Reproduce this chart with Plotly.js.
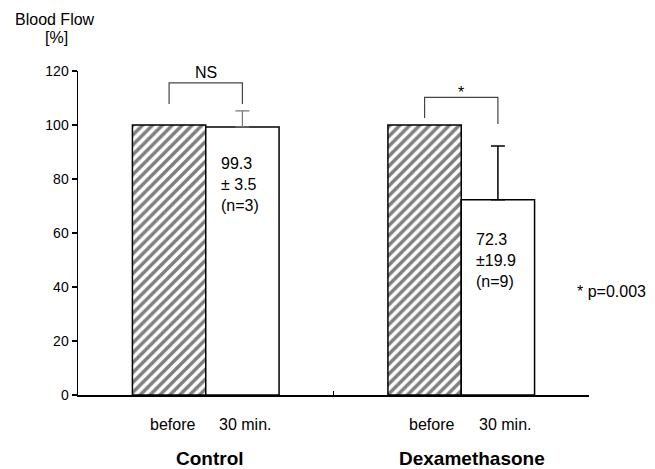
<!DOCTYPE html>
<html>
<head>
<meta charset="utf-8">
<script src="https://cdn.plot.ly/plotly-3.0.1.min.js"></script>
<style>html,body{margin:0;padding:0;background:#fff;}#chart{width:655px;height:469px;}</style>
</head>
<body>
<div id="chart"></div>
<script>
// ---- data ----
const groups = ['Control', 'Dexamethasone'];
const groupPos = [0, 1];
const phaseLabels = ['before', '30 min.'];
const beforeValues = [100, 100];
const afterValues = [99.3, 72.3];
const afterErrorDrawn = [5.9, 19.9];
const bracketTop = [115.6, 110.2];
const bracketLeftEnd = [107.8, 102.6];
const bracketRightEnd = [107.8, 100.4];
const bracketLabels = ['NS', '*'];
const statTexts = ['99.3<br>± 3.5<br>(n=3)', '72.3<br>±19.9<br>(n=9)'];
const statTextY = [77.8, 50];
const yTicks = [0, 20, 40, 60, 80, 100, 120];
const footnote = '* p=0.003';

const FONT = 'Liberation Sans, Arial, Helvetica, sans-serif';
const bargap = 0.426;
const barW = (1 - bargap) / 2;

const traces = [
  {
    type: 'bar', name: 'before', x: groupPos, y: beforeValues,
    offsetgroup: 'a',
    marker: {color: '#ffffff', line: {color: '#000', width: 1.5},
      pattern: {shape: '/', fgcolor: '#000', bgcolor: '#fff', size: 7, solidity: 0.5, fillmode: 'overlay'}},
    hoverinfo: 'skip', showlegend: false
  },
  {
    type: 'bar', name: '30 min. control', x: [groupPos[0]], y: [afterValues[0]],
    offsetgroup: 'b',
    marker: {color: '#ffffff', line: {color: '#000', width: 1.5}},
    error_y: {type: 'data', symmetric: false, array: [afterErrorDrawn[0]], arrayminus: [0], color: '#777', thickness: 1.2, width: 7},
    hoverinfo: 'skip', showlegend: false
  },
  {
    type: 'bar', name: '30 min. dexa', x: [groupPos[1]], y: [afterValues[1]],
    offsetgroup: 'b',
    marker: {color: '#ffffff', line: {color: '#000', width: 1.5}},
    error_y: {type: 'data', symmetric: false, array: [afterErrorDrawn[1]], arrayminus: [0], color: '#000', thickness: 1.5, width: 7},
    hoverinfo: 'skip', showlegend: false
  }
];

const shapes = [];
const annotations = [];
groupPos.forEach((g, i) => {
  const xl = g - barW / 2, xr = g + barW / 2;
  shapes.push({
    type: 'path', xref: 'x', yref: 'y',
    path: `M ${xl},${bracketLeftEnd[i]} L ${xl},${bracketTop[i]} L ${xr},${bracketTop[i]} L ${xr},${bracketRightEnd[i]}`,
    line: {color: '#444', width: 1.2}
  });
  annotations.push({
    xref: 'x', yref: 'y', x: g, y: bracketTop[i], text: bracketLabels[i],
    showarrow: false, yanchor: 'middle', yshift: i === 0 ? 10 : 5,
    font: {family: FONT, size: 16, color: '#000'}
  });
  annotations.push({
    xref: 'x', yref: 'y', x: g, y: statTextY[i], text: statTexts[i],
    showarrow: false, xanchor: 'left', yanchor: 'middle', align: 'left', xshift: 13,
    font: {family: FONT, size: 16, color: '#000'}
  });
  annotations.push({
    xref: 'x', yref: 'paper', x: g, y: 0, text: '<b>' + groups[i] + '</b>',
    showarrow: false, yanchor: 'middle', yshift: -63, xshift: i === 0 ? 4 : 11,
    font: {family: FONT, size: 19, color: '#000'}
  });
  [xl, xr].forEach((xc, k) => {
    annotations.push({
      xref: 'x', yref: 'paper', x: xc, y: 0, text: phaseLabels[k],
      showarrow: false, yanchor: 'middle', yshift: -29, xshift: i === 0 ? 3 : 7,
      font: {family: FONT, size: 16, color: '#000'}
    });
  });
});
annotations.push({xref: 'paper', yref: 'paper', x: -0.045, y: 1.158, text: 'Blood Flow', showarrow: false,
  xanchor: 'center', yanchor: 'middle', font: {family: FONT, size: 16, color: '#000'}});
annotations.push({xref: 'paper', yref: 'paper', x: -0.043, y: 1.102, text: '[%]', showarrow: false,
  xanchor: 'center', yanchor: 'middle', font: {family: FONT, size: 16, color: '#000'}});
annotations.push({xref: 'paper', yref: 'paper', x: 0.9726, y: 0.318, text: footnote, showarrow: false,
  xanchor: 'left', yanchor: 'middle', font: {family: FONT, size: 16, color: '#000'}});

const layout = {
  width: 655, height: 469,
  margin: {l: 78, r: 66, t: 71, b: 74},
  paper_bgcolor: '#fff', plot_bgcolor: '#fff',
  barmode: 'group', bargap: bargap, bargroupgap: 0,
  showlegend: false,
  font: {family: FONT, color: '#000'},
  xaxis: {
    type: 'linear', range: [-0.5, 1.5], showgrid: false, zeroline: false,
    showline: true, linecolor: '#000', linewidth: 1.5,
    ticks: 'inside', ticklen: 4, tickwidth: 1.2, tickcolor: '#000',
    tickmode: 'array', tickvals: [-0.5, 0.5, 1.5], showticklabels: false
  },
  yaxis: {
    range: [0, 120], showgrid: false, zeroline: false,
    showline: true, linecolor: '#000', linewidth: 1.5,
    ticks: 'outside', ticklen: 5, tickwidth: 1.2, tickcolor: '#000',
    tickmode: 'array', tickvals: yTicks,
    tickfont: {family: FONT, size: 14, color: '#000'}
  },
  shapes: shapes,
  annotations: annotations
};

Plotly.newPlot('chart', traces, layout, {staticPlot: true, displayModeBar: false});
</script>
</body>
</html>
